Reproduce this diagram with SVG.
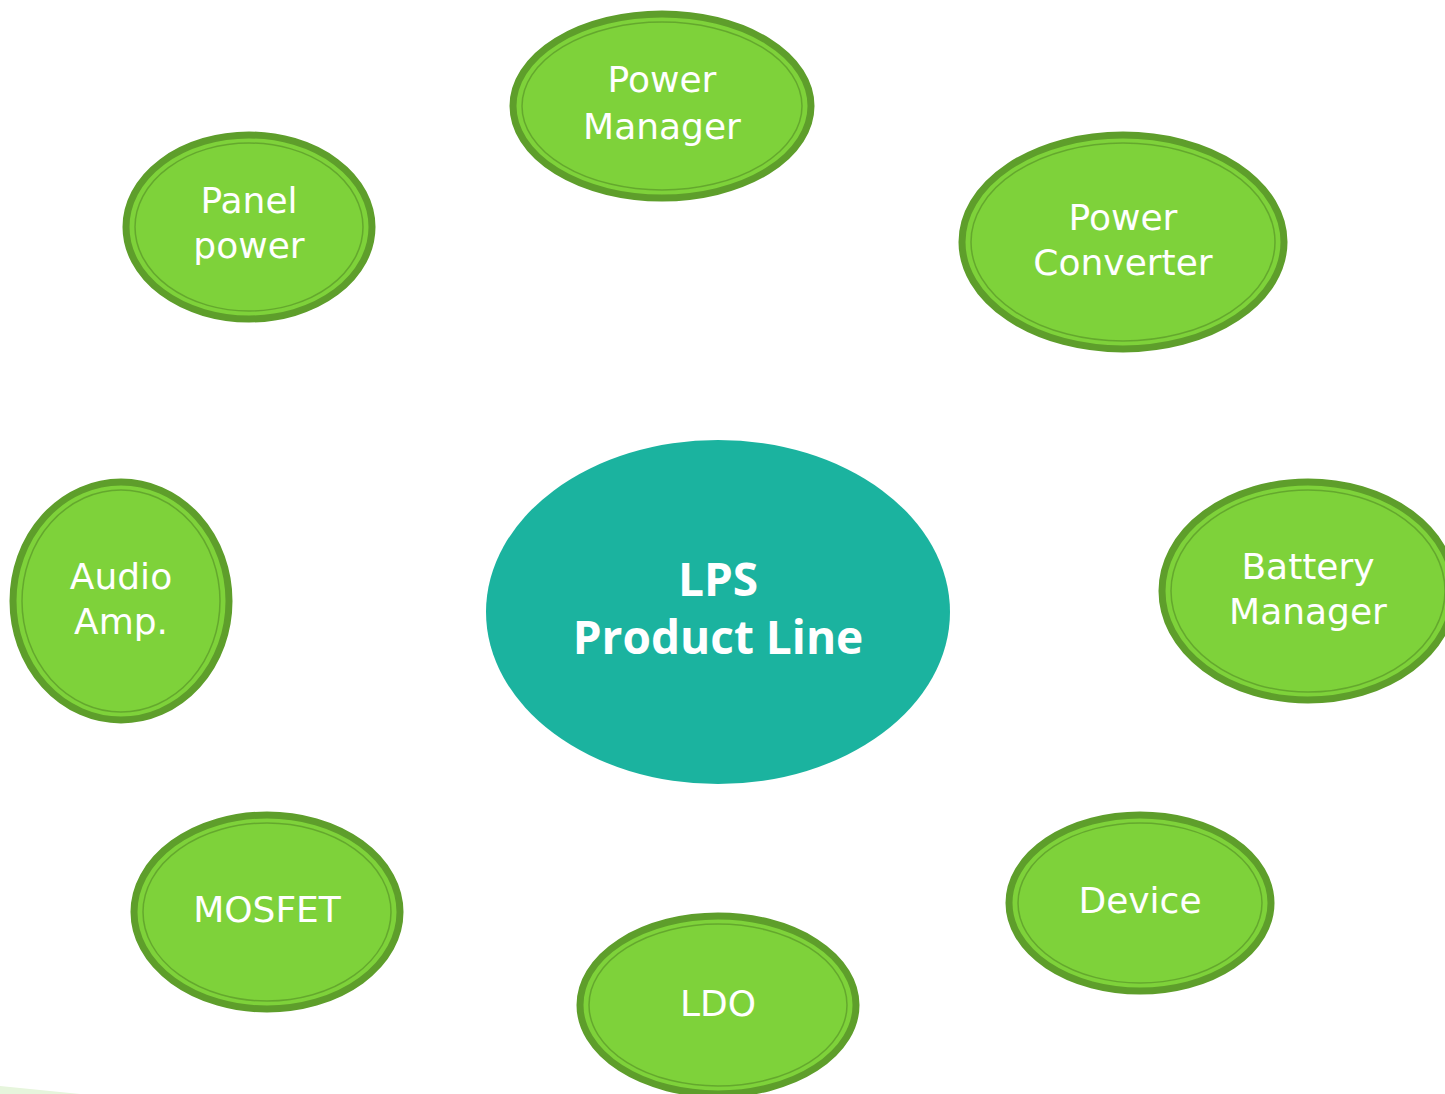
<svg xmlns="http://www.w3.org/2000/svg" width="1445" height="1094" viewBox="0 0 1445 1094">
<style>
.n{fill:#7ed23a;stroke:#5e9e2b;stroke-width:7}
.i{fill:none;stroke:#5e9e2b;stroke-width:1.5;opacity:0.8}
.t{font-family:"DejaVu Sans","Open Sans",sans-serif;font-size:36px;fill:#ffffff;text-anchor:middle}
.c{font-family:"Open Sans","DejaVu Sans",sans-serif;font-size:46px;font-weight:bold;fill:#ffffff;text-anchor:middle}
</style>
<rect width="1445" height="1094" fill="#ffffff"/>
<path d="M0 1086 L80 1094 L0 1094 Z" fill="#e6f5dc"/>
<g id="connectors"></g>
<g id="center">
<ellipse cx="718" cy="612" rx="232" ry="172" fill="#1bb39f"/>
<text class="c" x="718" y="596">LPS</text>
<text class="c" x="718" y="654">Product Line</text>
</g>
<g id="power-manager">
<ellipse class="n" cx="662" cy="106" rx="149" ry="92"/>
<ellipse class="i" cx="662" cy="106" rx="140" ry="84"/>
<text class="t" x="662" y="92">Power</text>
<text class="t" x="662" y="139">Manager</text>
</g>
<g id="panel-power">
<ellipse class="n" cx="249" cy="227" rx="123" ry="92"/>
<ellipse class="i" cx="249" cy="227" rx="114" ry="84"/>
<text class="t" x="249" y="213">Panel</text>
<text class="t" x="249" y="258">power</text>
</g>
<g id="power-converter">
<ellipse class="n" cx="1123" cy="242" rx="161" ry="107"/>
<ellipse class="i" cx="1123" cy="242" rx="152" ry="99"/>
<text class="t" x="1123" y="230">Power</text>
<text class="t" x="1123" y="275">Converter</text>
</g>
<g id="audio-amp">
<ellipse class="n" cx="121" cy="601" rx="108" ry="119"/>
<ellipse class="i" cx="121" cy="601" rx="99" ry="111"/>
<text class="t" x="121" y="589">Audio</text>
<text class="t" x="121" y="634">Amp.</text>
</g>
<g id="battery-manager">
<ellipse class="n" cx="1308" cy="591" rx="146" ry="109"/>
<ellipse class="i" cx="1308" cy="591" rx="137" ry="101"/>
<text class="t" x="1308" y="579">Battery</text>
<text class="t" x="1308" y="624">Manager</text>
</g>
<g id="mosfet">
<ellipse class="n" cx="267" cy="912" rx="133" ry="97"/>
<ellipse class="i" cx="267" cy="912" rx="124" ry="89"/>
<text class="t" x="267" y="922">MOSFET</text>
</g>
<g id="ldo">
<ellipse class="n" cx="718" cy="1005" rx="138" ry="89"/>
<ellipse class="i" cx="718" cy="1005" rx="129" ry="81"/>
<text class="t" x="718" y="1016">LDO</text>
</g>
<g id="device">
<ellipse class="n" cx="1140" cy="903" rx="131" ry="88"/>
<ellipse class="i" cx="1140" cy="903" rx="122" ry="80"/>
<text class="t" x="1140" y="913">Device</text>
</g>
</svg>
